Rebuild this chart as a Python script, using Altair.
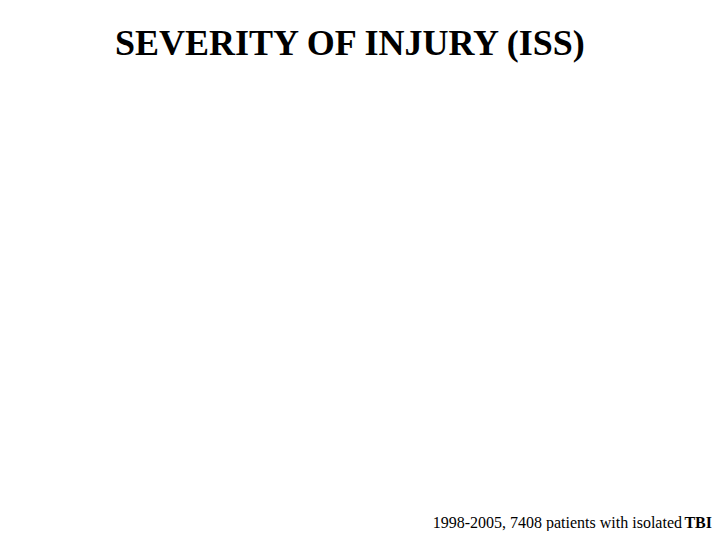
import altair as alt
import pandas as pd

title_text = ["SEVERITY OF INJURY (ISS)"]
note_plain = ["1998-2005, 7408 patients with isolated"]
note_bold = ["TBI"]

df_title = pd.DataFrame({"t": title_text})
df_plain = pd.DataFrame({"t": note_plain})
df_bold = pd.DataFrame({"t": note_bold})

FONT = "Liberation Serif"

title = alt.Chart(df_title).mark_text(
    font=FONT, fontSize=36, fontWeight="bold", align="left", baseline="alphabetic", color="black"
).encode(x=alt.value(107), y=alt.value(47), text="t:N")

bold = alt.Chart(df_bold).mark_text(
    font=FONT, fontSize=16, fontWeight="bold", align="right", baseline="alphabetic", color="black"
).encode(x=alt.value(704), y=alt.value(520), text="t:N")

plain = alt.Chart(df_plain).mark_text(
    font=FONT, fontSize=16, align="right", baseline="alphabetic", color="black"
).encode(x=alt.value(674), y=alt.value(520), text="t:N")

chart = alt.layer(title, plain, bold).properties(
    width=704, height=522, padding=0, background="white"
).configure_view(stroke="transparent", strokeWidth=0)

chart.save("out.html", embed_options={"renderer": "svg", "actions": False})
